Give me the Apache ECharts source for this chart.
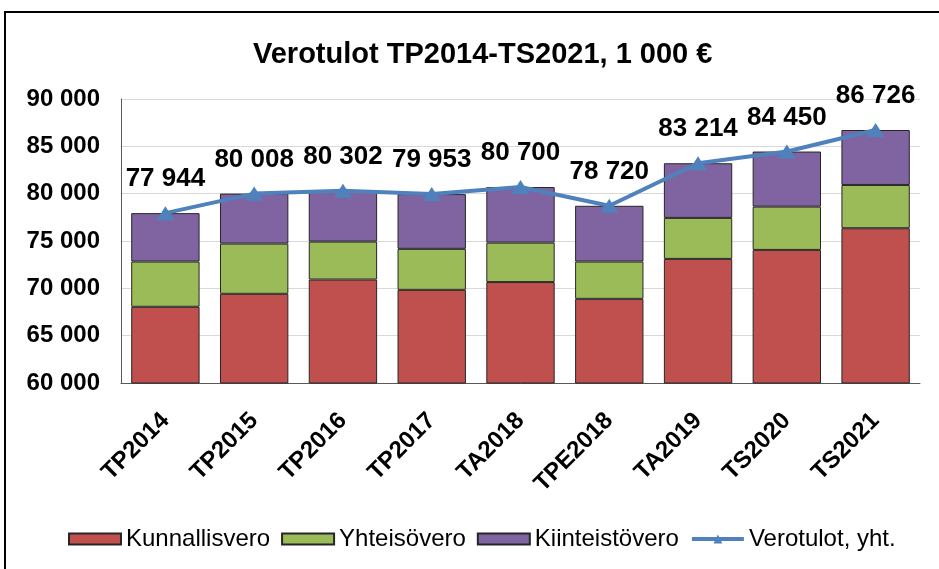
<!DOCTYPE html>
<html>
<head>
<meta charset="utf-8">
<script src="https://cdn.jsdelivr.net/npm/echarts@6/dist/echarts.min.js"></script>
<style>
html,body{margin:0;padding:0;background:#fff;}
#chart{width:939px;height:569px;}
</style>
</head>
<body>
<div id="chart"></div>
<script>
var categories = ['TP2014','TP2015','TP2016','TP2017','TA2018','TPE2018','TA2019','TS2020','TS2021'];
var kunnallisvero = [68050, 69420, 70930, 69840, 70660, 68890, 73110, 74060, 76350];
var yhteisovero = [4780, 5310, 4010, 4330, 4170, 3940, 4330, 4570, 4570];
var kiinteistovero = [5114, 5278, 5362, 5783, 5870, 5890, 5774, 5820, 5806];
var verotulot = [77944, 80008, 80302, 79953, 80700, 78720, 83214, 84450, 86726];
var yMin = 60000, yMax = 90000, yStep = 5000;

function fmt(v){ return String(v).replace(/\B(?=(\d{3})+(?!\d))/g, ' '); }

var FONT = '"Liberation Sans", Arial, sans-serif';
var chart = echarts.init(document.getElementById('chart'), null, {renderer:'canvas'});
var barBorder = {borderColor:'#262626', borderWidth:1};
chart.setOption({
  animation:false,
  backgroundColor:'#fff',
  textStyle:{fontFamily:FONT},
  graphic:[{type:'rect', shape:{x:5, y:12, width:960, height:600}, style:{fill:'none', stroke:'#000', lineWidth:2}, z:100}],
  title:{text:'Verotulot TP2014-TS2021, 1 000 €', left:248, top:35,
    textStyle:{fontFamily:FONT, fontSize:29, fontWeight:'bold', color:'#000'}},
  grid:{left:121, right:19, top:99, bottom:186},
  legend:{bottom:13, left:63, itemWidth:52, itemHeight:11, itemGap:11,
    textStyle:{fontFamily:FONT, fontSize:24, color:'#000'},
    lineStyle:{width:4},
    data:[{name:'Kunnallisvero', icon:'rect'},{name:'Yhteisövero', icon:'rect'},{name:'Kiinteistövero', icon:'rect'},{name:'Verotulot, yht.'}]},
  xAxis:{type:'category', data:categories,
    axisLine:{lineStyle:{color:'#595959', width:1}}, axisTick:{show:false},
    axisLabel:{rotate:45, margin:34, fontFamily:FONT, fontSize:24, fontWeight:'bold', color:'#000', interval:0}},
  yAxis:{type:'value', min:yMin, max:yMax, interval:yStep,
    axisLine:{show:true, lineStyle:{color:'#595959', width:1}}, axisTick:{show:false},
    splitLine:{lineStyle:{color:'#d9d9d9', width:1}},
    axisLabel:{margin:21, fontFamily:FONT, fontSize:24, fontWeight:'bold', color:'#000', formatter:function(v){return fmt(v);}}},
  series:[
    {name:'Kunnallisvero', type:'bar', stack:'t', data:kunnallisvero, barCategoryGap:'23%', itemStyle:Object.assign({color:'#c0504d'}, barBorder)},
    {name:'Yhteisövero', type:'bar', stack:'t', data:yhteisovero, itemStyle:Object.assign({color:'#9bbb59'}, barBorder)},
    {name:'Kiinteistövero', type:'bar', stack:'t', data:kiinteistovero, itemStyle:Object.assign({color:'#8064a2'}, barBorder)},
    {name:'Verotulot, yht.', type:'line', data:verotulot, z:10,
      symbol:'triangle', symbolSize:[18,14],
      lineStyle:{color:'#4f81bd', width:4}, itemStyle:{color:'#4f81bd'},
      label:{show:true, position:'top', distance:14, fontFamily:FONT, fontSize:26, fontWeight:'bold', color:'#000',
        formatter:function(p){return fmt(p.value);}}}
  ]
});
</script>
</body>
</html>
